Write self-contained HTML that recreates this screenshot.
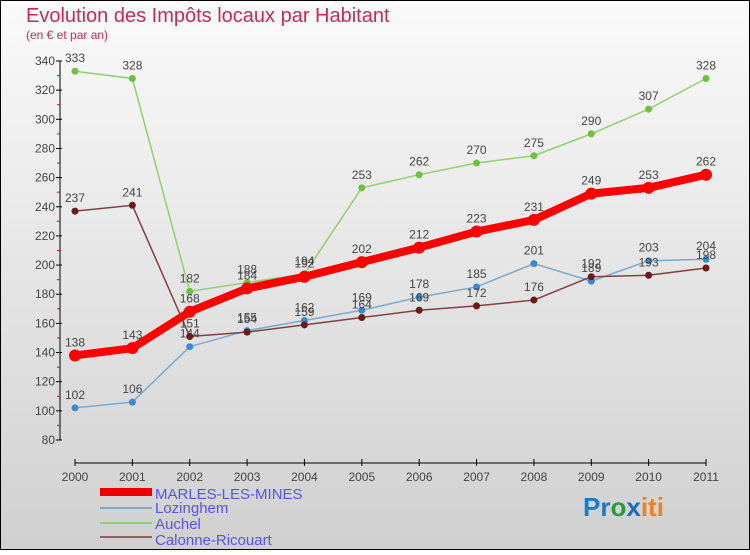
<!DOCTYPE html>
<html><head><meta charset="utf-8"><style>
body{margin:0;width:750px;height:550px;overflow:hidden;font-family:"Liberation Sans",sans-serif}
svg text{font-family:"Liberation Sans",sans-serif}
</style></head><body>
<svg id="c" width="750" height="550" viewBox="0 0 750 550">
<defs><linearGradient id="bg" x1="0" y1="0" x2="0" y2="1"><stop offset="0" stop-color="#fafafa"/><stop offset="1" stop-color="#d0d0d0"/></linearGradient></defs>
<rect x="0.5" y="0.5" width="749" height="549" fill="url(#bg)" stroke="#000"/>
<text x="26" y="22" font-size="20" fill="#c8285a">Evolution des Impôts locaux par Habitant</text>
<text x="26" y="39" font-size="12" fill="#c8285a">(en € et par an)</text>
<g id="axes"></g><g id="series"></g>
<g>
<rect x="100" y="488" width="52" height="8" fill="#e00"/>
<text x="155" y="499" font-size="15" fill="#5555ee">MARLES-LES-MINES</text>
<line x1="100" y1="508" x2="152" y2="508" stroke="#7aaad0" stroke-width="2"/>
<text x="155" y="513" font-size="15" fill="#5555ee">Lozinghem</text>
<line x1="100" y1="523" x2="152" y2="523" stroke="#90d070" stroke-width="2"/>
<text x="155" y="529" font-size="15" fill="#5555ee">Auchel</text>
<line x1="100" y1="537" x2="152" y2="537" stroke="#906060" stroke-width="2"/>
<text x="155" y="545" font-size="15" fill="#5555ee">Calonne-Ricouart</text>
</g>
<text x="583" y="516" font-size="26" font-weight="bold"><tspan fill="#1a7ad0">Pr</tspan><tspan fill="#2a9a3a">o</tspan><tspan fill="#1a6ac0">x</tspan><tspan fill="#f08020">iti</tspan></text>
</svg>
<script>
const years=["2000","2001","2002","2003","2004","2005","2006","2007","2008","2009","2010","2011"];
const yTicks=[80,100,120,140,160,180,200,220,240,260,280,300,320,340];
const marles=[138,143,168,184,192,202,212,223,231,249,253,262];
const lozinghem=[102,106,144,155,162,169,178,185,201,189,203,204];
const auchel=[333,328,182,188,194,253,262,270,275,290,307,328];
const calonne=[237,241,151,154,159,164,169,172,176,192,193,198];
const NS="http://www.w3.org/2000/svg";
const X=i=>75+i*(631/11);
const Y=v=>440-(v-80)*(379/260);
function mk(t,a,p){const e=document.createElementNS(NS,t);for(const k in a)e.setAttribute(k,a[k]);p.appendChild(e);return e;}
const ax=document.getElementById('axes');
const yl=mk('line',{x1:60,y1:Y(340),x2:60,y2:Y(80),stroke:'#000'},ax);


yTicks.forEach((v,i)=>{mk('line',{x1:56,y1:Y(v),x2:62,y2:Y(v),stroke:'#000'},ax);
 if(i<yTicks.length-1)mk('line',{x1:57,y1:Y(v+10),x2:60,y2:Y(v+10),stroke:'#e00'},ax);
 const t=mk('text',{x:55,y:Y(v)+4,'font-size':12,'text-anchor':'end',fill:'#444'},ax);t.textContent=v;
 
 });
const xl=mk('line',{x1:X(0),y1:463,x2:X(11),y2:463,stroke:'#000'},ax);


years.forEach((y,i)=>{mk('line',{x1:X(i),y1:459,x2:X(i),y2:466,stroke:'#000'},ax);
 const t=mk('text',{x:X(i),y:481,'font-size':12,'text-anchor':'middle',fill:'#444'},ax);t.textContent=y;
 
 });
const sg=document.getElementById('series');
function draw(vals,name,col,dot,w,r){
 const g=mk('g',{},sg);
 
 
 mk('polyline',{points:vals.map((v,i)=>X(i)+','+Y(v)).join(' '),fill:'none',stroke:col,'stroke-width':w,'stroke-linejoin':'round'},g);
 vals.forEach((v,i)=>{const c=mk('circle',{cx:X(i),cy:Y(v),r:r,fill:dot},g);
  
  
  const t=mk('text',{x:X(i),y:Y(v)-9,'font-size':12,'text-anchor':'middle',fill:'#444'},g);t.textContent=v;
  
  });
}
draw(lozinghem,'lozinghem','#7aaad0','#3a8ad0',1.5,3.5);
draw(calonne,'calonne','#804040','#6a1a1a',1.5,3.5);
draw(auchel,'auchel','#90d070','#70c040',1.5,3.5);
draw(marles,'marles','#f00','#f00',8,6);
</script>
</body></html>
